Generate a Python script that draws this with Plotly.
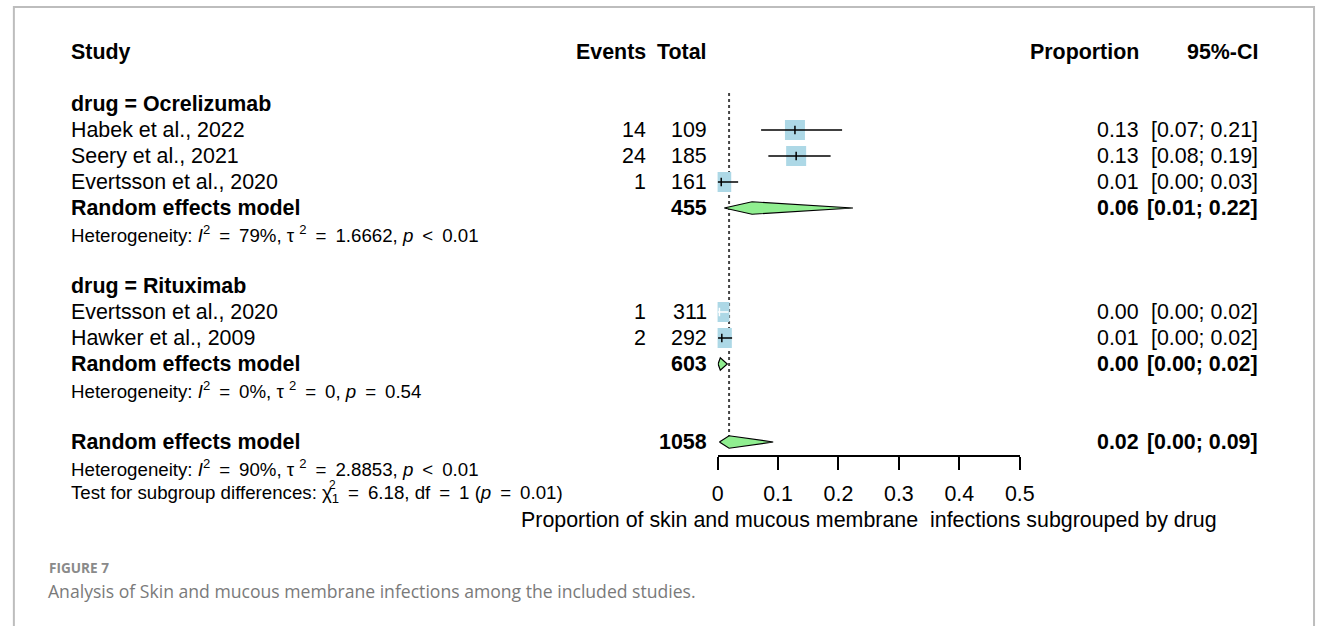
import plotly.graph_objects as go

# ---- study-level data -------------------------------------------------------
study = ["Habek et al., 2022", "Seery et al., 2021", "Evertsson et al., 2020",
         "Evertsson et al., 2020", "Hawker et al., 2009"]
drug = ["Ocrelizumab", "Ocrelizumab", "Ocrelizumab", "Rituximab", "Rituximab"]
events = [14, 24, 1, 1, 2]
total = [109, 185, 161, 311, 292]
prop = [0.128, 0.130, 0.006, 0.003, 0.007]
ci_lower = [0.072, 0.084, 0.0002, 0.0001, 0.0008]
ci_upper = [0.206, 0.187, 0.034, 0.018, 0.024]

# ---- subgroup pooled estimates (random effects) ----------------------------
groups = ["Ocrelizumab", "Rituximab"]
group_prop = [0.057, 0.0045]
group_lower = [0.011, 0.0008]
group_upper = [0.224, 0.016]
T = "\u2009"  # thin space around relation signs
group_het = [
    f"Heterogeneity: <i>I</i><sup>2</sup>{T} = {T}79%, τ <sup>2</sup>{T} = {T}1.6662, <i>p</i>{T} &lt; {T}0.01",
    f"Heterogeneity: <i>I</i><sup>2</sup>{T} = {T}0%, τ <sup>2</sup>{T} = {T}0, <i>p</i>{T} = {T}0.54",
]

# ---- overall pooled estimate -----------------------------------------------
overall_prop = 0.019
overall_lower = 0.003
overall_upper = 0.092
overall_het = (f"Heterogeneity: <i>I</i><sup>2</sup>{T} = {T}90%, τ <sup>2</sup>{T} = {T}2.8853, "
               f"<i>p</i>{T} &lt; {T}0.01")
subgroup_test = (f"Test for subgroup differences: χ<sub>1</sub>{T} = {T}6.18, df{T} = {T}1 "
                 f"(<i>p</i>{T} = {T}0.01)")

x_ticks = [0, 0.1, 0.2, 0.3, 0.4, 0.5]
x_tick_labels = ["0", "0.1", "0.2", "0.3", "0.4", "0.5"]
x_title = "Proportion of skin and mucous membrane\u00a0 infections subgrouped by drug"
fig_label = "FIGURE 7"
fig_caption = "Analysis of Skin and mucous membrane infections among the included studies."

# ---- geometry (pixels) ------------------------------------------------------
W, H = 1331, 626
FONT = "Liberation Sans, Arial, Helvetica, sans-serif"
FS = 21.4        # main text size
FS_HET = 18.7    # heterogeneity lines
ROW_PX = 26      # row pitch
TOP_PX = 52      # header row centre
AXIS_PX = 455    # x-axis line position
X0_PX, X1_PX = 723, 1030  # pixel span of the 0..0.5 axis


def px(x):
    return x / W


def py(y):
    return 1 - y / H


col_study = px(64.5)
col_events = px(652)
col_total = px(714.5)
col_prop = px(1153)
col_ci = px(1274)

y_top = -TOP_PX / ROW_PX
y_bottom = (AXIS_PX - TOP_PX) / ROW_PX

annotations = []


def row_y(row):
    return py(TOP_PX + row * ROW_PX)


def txt(x, row, text, anchor="left", bold=False, size=FS, color="black"):
    annotations.append(dict(
        x=x, y=row_y(row), xref="paper", yref="paper",
        text=f"<b>{text}</b>" if bold else text,
        showarrow=False, xanchor=anchor, yanchor="middle",
        font=dict(family=FONT, size=size, color=color)))


def fmt(v):
    return f"{v:.2f}"


fig = go.Figure()

# header
txt(col_study, 0, "Study", bold=True)
txt(col_events, 0, "Events", "right", bold=True)
txt(col_total, 0, "Total", "right", bold=True)
txt(col_prop, 0, "Proportion", "right", bold=True)
txt(col_ci, 0, "95%-CI", "right", bold=True)

sq_x, sq_y, est_rows = [], [], []
diamonds = []
row = 2
for g, gname in enumerate(groups):
    txt(col_study, row, f"drug = {gname}", bold=True)
    row += 1
    idx = [i for i, d in enumerate(drug) if d == gname]
    for i in idx:
        txt(col_study, row, study[i])
        txt(col_events, row, str(events[i]), "right")
        txt(col_total, row, str(total[i]), "right")
        txt(col_prop, row, fmt(prop[i]), "right")
        txt(col_ci, row, f"[{fmt(ci_lower[i])}; {fmt(ci_upper[i])}]", "right")
        sq_x.append(prop[i])
        sq_y.append(row)
        est_rows.append((i, row))
        row += 1
    txt(col_study, row, "Random effects model", bold=True)
    txt(col_total, row, str(sum(total[i] for i in idx)), "right", bold=True)
    txt(col_prop, row, fmt(group_prop[g]), "right", bold=True)
    txt(col_ci, row, f"[{fmt(group_lower[g])}; {fmt(group_upper[g])}]", "right", bold=True)
    diamonds.append((group_lower[g], group_prop[g], group_upper[g], row))
    row += 1
    txt(col_study, row, group_het[g], size=FS_HET)
    row += 2

overall_row = row
txt(col_study, row, "Random effects model", bold=True)
txt(col_total, row, str(sum(total)), "right", bold=True)
txt(col_prop, row, fmt(overall_prop), "right", bold=True)
txt(col_ci, row, f"[{fmt(overall_lower)}; {fmt(overall_upper)}]", "right", bold=True)
diamonds.append((overall_lower, overall_prop, overall_upper, row))
txt(col_study, row + 1, overall_het, size=FS_HET)
txt(col_study, row + 2, subgroup_test, size=FS_HET)
# stacked superscript of the chi-square symbol
txt(px(332), row + 2 - 0.35, "2", "center", size=12)
txt(px((X0_PX + X1_PX) / 2), row + 3, x_title, "center")

# reference line at the overall estimate
fig.add_trace(go.Scatter(
    x=[overall_prop, overall_prop], y=[1.58, overall_row - 0.2], mode="lines",
    line=dict(color="#444444", width=2, dash="dot"), hoverinfo="skip"))

# study squares
fig.add_trace(go.Scatter(
    x=sq_x, y=sq_y, mode="markers",
    marker=dict(symbol="square", size=20, color="#ADD8E6", line=dict(width=0)),
    hoverinfo="skip"))

# confidence intervals and point ticks (white when hidden inside the square)
SQ_HALF = 10 / ((X1_PX - X0_PX) / 0.5)
for i, r in est_rows:
    inside = (ci_lower[i] >= prop[i] - SQ_HALF) and (ci_upper[i] <= prop[i] + SQ_HALF)
    col = "white" if inside else "black"
    fig.add_trace(go.Scatter(
        x=[ci_lower[i], ci_upper[i]], y=[r, r], mode="lines",
        line=dict(color=col, width=1.5), hoverinfo="skip"))
    fig.add_trace(go.Scatter(
        x=[prop[i]], y=[r], mode="markers",
        marker=dict(symbol="line-ns", size=6, line=dict(color=col, width=1.5)),
        hoverinfo="skip"))

# pooled diamonds
DH = 0.24
for lo, est, hi, r in diamonds:
    fig.add_trace(go.Scatter(
        x=[lo, est, hi, est, lo], y=[r, r - DH, r, r + DH, r], mode="lines",
        fill="toself", fillcolor="#90EE90", line=dict(color="black", width=1.2),
        hoverinfo="skip"))

# figure label and caption
annotations.append(dict(x=px(42), y=py(567), xref="paper", yref="paper", text=f"<b>{fig_label}</b>",
                        showarrow=False, xanchor="left", yanchor="middle",
                        font=dict(family="Open Sans, sans-serif", size=13.6, color="#8a8a8a")))
annotations.append(dict(x=px(41), y=py(591), xref="paper", yref="paper", text=fig_caption,
                        showarrow=False, xanchor="left", yanchor="middle",
                        font=dict(family="Open Sans, sans-serif", size=17.6, color="#7a7a7a")))

# panel frame
shapes = [dict(type="rect", xref="paper", yref="paper",
               x0=px(8), x1=px(1329), y0=-0.1, y1=py(7),
               line=dict(color="#bdbdbd", width=2), fillcolor="rgba(0,0,0,0)", layer="below")]

fig.update_layout(
    width=W, height=H, autosize=False, margin=dict(l=0, r=0, t=0, b=0),
    paper_bgcolor="white", plot_bgcolor="white", showlegend=False,
    annotations=annotations, shapes=shapes,
    xaxis=dict(domain=[px(X0_PX), px(X1_PX)], range=[0, 0.5], showgrid=False, zeroline=False,
               showline=True, linecolor="black", linewidth=1.5, ticks="outside",
               ticklen=13, tickwidth=1.5, tickcolor="black", tickvals=x_ticks,
               ticktext=x_tick_labels, ticklabelstandoff=6,
               tickfont=dict(family=FONT, size=FS, color="black")),
    yaxis=dict(domain=[py(AXIS_PX), 1], range=[y_bottom, y_top], visible=False),
)

fig.write_html("out.html", config={"responsive": False})
